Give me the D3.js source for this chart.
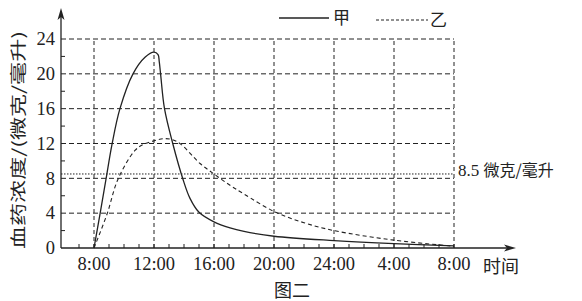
<!DOCTYPE html>
<html>
<head>
<meta charset="utf-8">
<script src="https://cdn.jsdelivr.net/npm/d3@7"></script>
<style>
  body { margin: 0; background: #fff; }
  svg { display: block; }
</style>
</head>
<body>
<div id="chart-area"></div>
<script>

// DATA (hours after 8:00, concentration in 微克/毫升)

let jiaHours = [0, 0.4, 0.8, 1.2, 1.73, 2.6, 3.4, 4.0, 4.27, 4.35, 4.45, 4.7, 5.25, 5.93, 6.4, 7.0, 8, 9.07, 10, 12, 16, 20, 24]
let jiaValues = [0, 3.9, 7.9, 11.9, 16, 20, 21.9, 22.5, 22.2, 21.4, 19.8, 16, 12, 7.9, 5.7, 4.1, 3.0, 2.3, 1.9, 1.35, 0.85, 0.5, 0.25]

let yiHours = [0, 0.87, 1.6, 2.73, 3.3, 4.0, 4.6, 5.2, 5.8, 7.07, 8, 9.07, 10, 12, 14, 16, 20, 24]
let yiValues = [0, 3.9, 7.9, 11.2, 11.9, 12.3, 12.55, 12.45, 11.9, 9.7, 8.5, 7.2, 6.2, 4.2, 2.9, 2.0, 0.9, 0.2]

let xTickHours = [0, 4, 8, 12, 16, 20, 24]
let xTickLabels = ["8:00", "12:00", "16:00", "20:00", "24:00", "4:00", "8:00"]
let yTickValues = [0, 4, 8, 12, 16, 20, 24]
let yMinorValues = [2, 6, 10, 14, 18, 22]
let xMinorHours = d3.range(-1, 25)

let thresholdValue = 8.5
let thresholdLabel = "微克/毫升"

let seriesNames = ["甲", "乙"]

// size
let width = 582,
    height = 301

let svg = d3.select("#chart-area").append("svg")
    .attr("width", width)
    .attr("height", height)

let ink = "#222"
let serif = "'Liberation Serif', 'Times New Roman', serif"
let cjk = "'Noto Sans CJK SC', sans-serif"

// scales
let x = d3.scaleLinear().domain([0, 24]).range([94, 454])
let y = d3.scaleLinear().domain([0, 24]).range([248, 39])

let axisLeftX = 61

// horizontal grid
svg.selectAll(".hgrid").data(yTickValues.filter(d => d > 0))
    .enter().append("line")
    .attr("class", "hgrid")
    .attr("x1", axisLeftX).attr("x2", x(24))
    .attr("y1", d => y(d)).attr("y2", d => y(d))
    .attr("stroke", ink).attr("stroke-width", 1)
    .attr("stroke-dasharray", "5,3")

// vertical grid
svg.selectAll(".vgrid").data(xTickHours)
    .enter().append("line")
    .attr("class", "vgrid")
    .attr("x1", d => x(d)).attr("x2", d => x(d))
    .attr("y1", y(0)).attr("y2", y(24))
    .attr("stroke", ink).attr("stroke-width", 1)
    .attr("stroke-dasharray", "4,3")

// 8.5 dotted line
svg.append("line")
    .attr("x1", axisLeftX).attr("x2", x(24))
    .attr("y1", y(thresholdValue)).attr("y2", y(thresholdValue))
    .attr("stroke", ink).attr("stroke-width", 1)
    .attr("stroke-dasharray", "1.5,1.5")

let thr = svg.append("text")
    .attr("x", x(24) + 4)
    .attr("y", y(thresholdValue) + 2)
    .attr("font-size", 17)
    .attr("fill", ink)
thr.append("tspan").attr("font-family", serif).text(thresholdValue + " ")
thr.append("tspan").attr("font-family", cjk).attr("font-size", 16).text(thresholdLabel)

// axes
svg.append("line")
    .attr("x1", axisLeftX).attr("x2", 510)
    .attr("y1", y(0)).attr("y2", y(0))
    .attr("stroke", ink).attr("stroke-width", 1.3)
svg.append("path")
    .attr("d", "M516," + y(0) + " L504," + (y(0) - 3.5) + " L507," + y(0) + " L504," + (y(0) + 3.5) + " Z")
    .attr("fill", ink)

svg.append("line")
    .attr("x1", axisLeftX).attr("x2", axisLeftX)
    .attr("y1", y(0)).attr("y2", 14)
    .attr("stroke", ink).attr("stroke-width", 1.3)
svg.append("path")
    .attr("d", "M" + axisLeftX + ",8 L" + (axisLeftX - 3.5) + ",20 L" + axisLeftX + ",17 L" + (axisLeftX + 3.5) + ",20 Z")
    .attr("fill", ink)

// minor ticks
svg.selectAll(".xminor").data(xMinorHours)
    .enter().append("line")
    .attr("x1", d => x(d)).attr("x2", d => x(d))
    .attr("y1", y(0)).attr("y2", y(0) - 4)
    .attr("stroke", ink).attr("stroke-width", 1)

svg.selectAll(".yminor").data(yMinorValues)
    .enter().append("line")
    .attr("x1", axisLeftX).attr("x2", axisLeftX + 4)
    .attr("y1", d => y(d)).attr("y2", d => y(d))
    .attr("stroke", ink).attr("stroke-width", 1)

// tick labels
svg.selectAll(".ylab").data(yTickValues)
    .enter().append("text")
    .attr("x", 55)
    .attr("y", d => y(d))
    .attr("dy", "0.34em")
    .attr("text-anchor", "end")
    .attr("font-family", serif)
    .attr("font-size", 18.5)
    .attr("fill", ink)
    .text(d => d)

svg.selectAll(".xlab").data(xTickHours)
    .enter().append("text")
    .attr("x", d => x(d))
    .attr("y", 270)
    .attr("text-anchor", "middle")
    .attr("font-family", serif)
    .attr("font-size", 18.5)
    .attr("fill", ink)
    .text((d, i) => xTickLabels[i])

// axis titles
svg.append("text")
    .attr("transform", "translate(24,140) rotate(-90)")
    .attr("text-anchor", "middle")
    .attr("font-family", cjk)
    .attr("font-size", 16)
    .attr("textLength", 218)
    .attr("lengthAdjust", "spacingAndGlyphs")
    .attr("fill", ink)
    .text("血药浓度/(微克/毫升)")

svg.append("text")
    .attr("x", 483).attr("y", 273)
    .attr("font-family", cjk)
    .attr("font-size", 18)
    .attr("fill", ink)
    .text("时间")

svg.append("text")
    .attr("x", 292).attr("y", 297)
    .attr("text-anchor", "middle")
    .attr("font-family", cjk)
    .attr("font-size", 18)
    .attr("fill", ink)
    .text("图二")

// curves
let line = d3.line()
    .x(d => x(d[0]))
    .y(d => y(d[1]))
    .curve(d3.curveCatmullRom.alpha(0.5))

let jia = jiaHours.map((h, i) => [h, jiaValues[i]])
let yi = yiHours.map((h, i) => [h, yiValues[i]])

svg.append("path")
    .datum(jia)
    .attr("d", line)
    .attr("fill", "none")
    .attr("stroke", ink)
    .attr("stroke-width", 1.3)

svg.append("path")
    .datum(yi)
    .attr("d", line)
    .attr("fill", "none")
    .attr("stroke", ink)
    .attr("stroke-width", 1.1)
    .attr("stroke-dasharray", "4,3")

// legend
svg.append("line")
    .attr("x1", 279).attr("x2", 329)
    .attr("y1", 18).attr("y2", 18)
    .attr("stroke", ink).attr("stroke-width", 1.3)
svg.append("text")
    .attr("x", 333).attr("y", 24)
    .attr("font-family", cjk).attr("font-size", 17)
    .attr("fill", ink)
    .text(seriesNames[0])

svg.append("line")
    .attr("x1", 376).attr("x2", 428)
    .attr("y1", 20).attr("y2", 20)
    .attr("stroke", ink).attr("stroke-width", 1)
    .attr("stroke-dasharray", "3,2")
svg.append("text")
    .attr("x", 430).attr("y", 26)
    .attr("font-family", cjk).attr("font-size", 17)
    .attr("fill", ink)
    .text(seriesNames[1])

</script>
</body>
</html>
